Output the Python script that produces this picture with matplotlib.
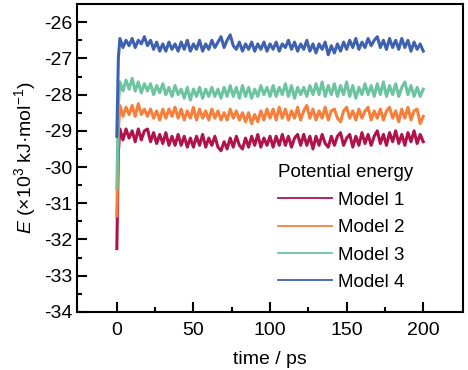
# -*- coding: utf-8 -*-

import matplotlib
matplotlib.use("Agg")
import matplotlib.pyplot as plt
import numpy as np


# time axis: start point, 1 ps, then every 2 ps up to 200 ps
time_ps = np.concatenate([[0, 1], np.arange(2, 201, 2)])

model_1 = [-32.25, -29.6,
    -28.95, -29.25, -28.95, -29.2, -29.0, -29.3, -28.95, -29.25, -29.0, -28.95,
    -29.3, -29.05, -29.35, -29.1, -29.35, -29.05, -29.4, -29.15, -29.4, -29.1,
    -29.4, -29.15, -29.45, -29.2, -29.45, -29.15, -29.4, -29.1, -29.45, -29.2,
    -29.4, -29.15, -29.45, -29.55, -29.3, -29.5, -29.2, -29.45, -29.15, -29.4,
    -29.5, -29.2, -29.45, -29.15, -29.4, -29.1, -29.45, -29.2, -29.4, -29.15,
    -29.45, -29.15, -29.4, -29.1, -29.4, -29.15, -29.45, -29.2, -29.1, -29.4,
    -29.1, -29.4, -29.15, -29.5, -29.15, -29.4, -29.1, -29.35, -29.45, -29.15,
    -29.4, -29.15, -29.05, -29.4, -29.2, -29.1, -29.45, -29.15, -29.4, -29.05,
    -29.35, -29.1, -29.4, -29.15, -29.0, -29.35, -29.1, -29.4, -29.05, -29.3,
    -29.0, -29.35, -29.1, -29.4, -29.05, -29.3, -29.0, -29.35, -29.1, -29.3]

model_2 = [-31.35, -29.0,
    -28.3, -28.6, -28.35, -28.55, -28.3, -28.6, -28.25, -28.55, -28.4, -28.6,
    -28.4, -28.65, -28.45, -28.7, -28.4, -28.65, -28.4, -28.6, -28.35, -28.65,
    -28.4, -28.7, -28.45, -28.65, -28.35, -28.7, -28.4, -28.65, -28.45, -28.7,
    -28.4, -28.65, -28.45, -28.7, -28.5, -28.7, -28.4, -28.65, -28.45, -28.7,
    -28.5, -28.75, -28.5, -28.8, -28.55, -28.75, -28.45, -28.7, -28.4, -28.65,
    -28.4, -28.7, -28.35, -28.65, -28.4, -28.7, -28.45, -28.65, -28.35, -28.7,
    -28.45, -28.3, -28.65, -28.4, -28.7, -28.45, -28.65, -28.35, -28.7, -28.45,
    -28.4, -28.65, -28.75, -28.45, -28.35, -28.65, -28.45, -28.7, -28.4, -28.65,
    -28.45, -28.35, -28.7, -28.45, -28.65, -28.4, -28.7, -28.45, -28.35, -28.65,
    -28.45, -28.75, -28.4, -28.65, -28.35, -28.7, -28.45, -28.4, -28.8, -28.6]

model_3 = [-30.6, -28.3,
    -27.65, -27.9, -27.6, -27.85, -27.55, -27.9, -27.65, -27.95, -27.7, -27.9,
    -27.7, -28.0, -27.75, -27.95, -27.7, -28.0, -27.8, -28.05, -27.75, -28.0,
    -27.85, -28.1, -27.8, -28.15, -27.85, -28.05, -27.8, -28.1, -27.85, -28.05,
    -27.8, -28.05, -27.85, -28.1, -27.8, -28.05, -27.75, -28.05, -27.8, -28.1,
    -27.75, -28.05, -27.8, -28.1, -27.85, -28.05, -27.75, -28.0, -27.8, -28.05,
    -27.75, -28.05, -27.8, -28.0, -27.7, -28.05, -27.75, -28.1, -27.8, -28.0,
    -27.8, -28.05, -27.75, -28.0, -27.7, -28.0, -27.65, -28.05, -27.75, -28.0,
    -27.7, -28.05, -27.75, -28.0, -27.65, -28.05, -27.75, -28.1, -27.8, -28.0,
    -27.7, -28.0, -27.75, -28.05, -27.7, -28.0, -27.65, -28.05, -27.75, -28.0,
    -27.7, -28.05, -27.8, -27.65, -28.0, -27.75, -28.05, -27.8, -28.05, -27.85]

model_4 = [-29.15, -27.0,
    -26.45, -26.7, -26.5, -26.65, -26.45, -26.7, -26.5, -26.6, -26.4, -26.65,
    -26.5, -26.75, -26.55, -26.8, -26.6, -26.8, -26.55, -26.75, -26.6, -26.8,
    -26.55, -26.75, -26.5, -26.8, -26.6, -26.75, -26.5, -26.8, -26.6, -26.75,
    -26.5, -26.7, -26.55, -26.4, -26.7, -26.5, -26.35, -26.65, -26.75, -26.55,
    -26.8, -26.6, -26.75, -26.55, -26.8, -26.6, -26.75, -26.55, -26.8, -26.6,
    -26.75, -26.55, -26.8, -26.6, -26.7, -26.5, -26.75, -26.55, -26.8, -26.6,
    -26.75, -26.5, -26.8, -26.6, -26.85, -26.6, -26.75, -26.55, -26.9, -26.65,
    -26.85, -26.6, -26.8, -26.55, -26.75, -26.5, -26.7, -26.45, -26.75, -26.55,
    -26.7, -26.45, -26.65, -26.5, -26.4, -26.7, -26.5, -26.75, -26.45, -26.7,
    -26.5, -26.75, -26.45, -26.7, -26.5, -26.8, -26.55, -26.75, -26.6, -26.8]

labels = ["Model 1", "Model 2", "Model 3", "Model 4"]
colors = ["#B0124A", "#F77E3B", "#6CC4A0", "#3F62B0"]

plt.rcParams["font.family"] = ["Liberation Sans", "DejaVu Sans"]
plt.rcParams["mathtext.fontset"] = "custom"
plt.rcParams["mathtext.rm"] = "Liberation Sans"
plt.rcParams["mathtext.it"] = "Liberation Sans:italic"
plt.rcParams["axes.unicode_minus"] = False

fig = plt.figure(figsize=(4.68, 3.70), dpi=100)
ax = fig.add_axes([0.1645, 0.157, 0.825, 0.832])

for series, label, color in zip([model_1, model_2, model_3, model_4], labels, colors):
    ax.plot(time_ps, series, color=color, lw=2.2, label=label)

ax.set_xlim(-26, 226)
ax.set_ylim(-34, -25.5)
ax.set_xticks([0, 50, 100, 150, 200])
ax.set_xticks([25, 75, 125, 175], minor=True)
ax.set_yticks(np.arange(-34, -25.9, 1))
ax.set_yticks(np.arange(-33.5, -25.9, 1), minor=True)
ax.tick_params(which="both", direction="in", width=1.5, labelsize=14)
ax.tick_params(which="major", length=7)
ax.tick_params(which="minor", length=3.5)
ax.tick_params(axis="x", pad=7)
for spine in ax.spines.values():
    spine.set_linewidth(1.5)

ax.set_xlabel("time / ps", fontsize=14, labelpad=9)
ax.set_ylabel(r"$E$ (×10$^3$ kJ·mol$^{-1}$)", fontsize=14, labelpad=4)

leg = ax.legend(loc="lower left", bbox_to_anchor=(0.52, 0.068), frameon=False,
                title="Potential energy", fontsize=13.5, title_fontsize=13.5,
                handlelength=2.9, handletextpad=0.3, labelspacing=0.55,
                borderpad=0, borderaxespad=0, alignment="left")
for handle in leg.get_lines():
    handle.set_linewidth(1.3)

plt.savefig("out.png", dpi=100)
